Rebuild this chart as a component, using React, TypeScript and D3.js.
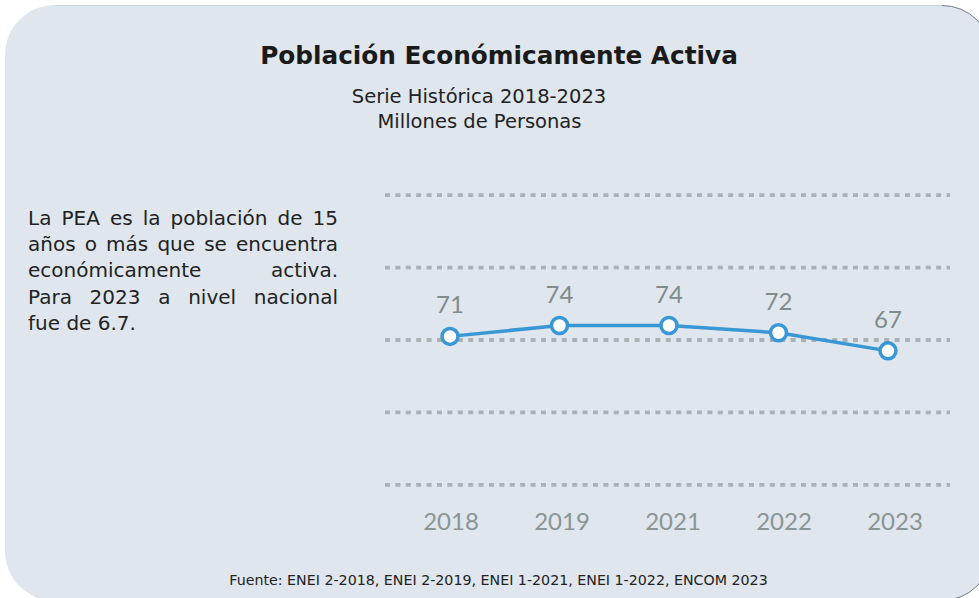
import React from "react";
import * as d3 from "d3";

const years = ["2018", "2019", "2021", "2022", "2023"];
const values = [71, 74, 74, 72, 67];
const gridTicks = [30, 50, 70, 90, 110];
const titleText = "Población Económicamente Activa";
const subtitleLines = ["Serie Histórica 2018-2023", "Millones de Personas"];
const paragraphLines = [
  "La PEA es la población de 15",
  "años o más que se encuentra",
  "económicamente activa.",
  "Para 2023 a nivel nacional",
  "fue de 6.7.",
];
const sourceText = "Fuente: ENEI 2-2018, ENEI 2-2019, ENEI 1-2021, ENEI 1-2022, ENCOM 2023";

const W = 979;
const H = 598;
const SANS = '"DejaVu Sans", "Open Sans", sans-serif';
const LATO = 'Lato, "Open Sans", sans-serif';

let ctx: CanvasRenderingContext2D | null = null;
function measure(text: string, size: number, weight = 400, family = SANS) {
  if (!ctx && typeof document !== "undefined") {
    ctx = document.createElement("canvas").getContext("2d");
  }
  if (!ctx) return text.length * size * 0.6;
  ctx.font = `${weight} ${size}px ${family}`;
  return ctx.measureText(text).width;
}
function fitSize(text: string, target: number, weight = 400, family = SANS) {
  const base = 20;
  return (base * target) / measure(text, base, weight, family);
}

export default function App() {
  const x = d3.scalePoint<string>().domain(years).range([450, 888]);
  const xLab = d3.scalePoint<string>().domain(years).range([451, 895]);
  const y = d3.scaleLinear().domain([30, 110]).range([484.9, 195.1]);

  const data = years.map((yr, i) => ({ yr, v: values[i] }));
  const line = d3
    .line<{ yr: string; v: number }>()
    .x((d) => x(d.yr) as number)
    .y((d) => y(d.v));

  const titleSize = Math.min(25, fitSize(titleText, 478, 700));
  const subSize = Math.min(19.5, fitSize(subtitleLines[0], 264, 400));
  const subSize2 = Math.min(19.5, fitSize(subtitleLines[1], 221, 400));
  const srcSize = Math.min(14.5, fitSize(sourceText, 539, 400));
  const paraSize = Math.min(20, fitSize(paragraphLines[1], 310, 400));

  const paraLeft = 28;
  const paraWidth = 310;
  const paraBase = 225;
  const paraStep = 26.2;

  return (
    <svg
      width={W}
      height={H}
      style={{ position: "absolute", left: 0, top: 0, background: "#ffffff" }}
    >
      <rect x={5} y={5} width={987} height={596} rx={50} ry={50} fill="#dfe6ed" />
      <path d="M55,5.5 L942,5.5" stroke="#cfd4d9" strokeWidth={1} fill="none" />
      <path d="M942,5.5 A49.5,49.5 0 0 1 991.5,55" stroke="#7d8287" strokeWidth={1} fill="none" />
      <path d="M991.5,551 A49.5,49.5 0 0 1 942,600.5" stroke="#7d8287" strokeWidth={1} fill="none" />

      <text
        x={499}
        y={64}
        textAnchor="middle"
        fontFamily={SANS}
        fontWeight={700}
        fontSize={titleSize}
        fill="#1a1a1a"
      >
        {titleText}
      </text>
      <text
        x={479}
        y={103}
        textAnchor="middle"
        fontFamily={SANS}
        fontSize={subSize}
        fill="#222"
      >
        {subtitleLines[0]}
      </text>
      <text
        x={479.5}
        y={128}
        textAnchor="middle"
        fontFamily={SANS}
        fontSize={subSize2}
        fill="#222"
      >
        {subtitleLines[1]}
      </text>

      {paragraphLines.map((ln, li) => {
        const words = ln.split(" ");
        const widths = words.map((w) => measure(w, paraSize));
        const isLast = li === paragraphLines.length - 1;
        const total = widths.reduce((a, b) => a + b, 0);
        const spaceW = measure(" ", paraSize);
        const gap = isLast || words.length < 2 ? spaceW : (paraWidth - total) / (words.length - 1);
        let cx = paraLeft;
        return (
          <text key={li} y={paraBase + li * paraStep} fontFamily={SANS} fontSize={paraSize} fill="#222">
            {words.map((w, wi) => {
              const px = cx;
              cx += widths[wi] + gap;
              return (
                <tspan key={wi} x={px}>
                  {w}
                </tspan>
              );
            })}
          </text>
        );
      })}

      <g>
        {gridTicks.map((t) => (
          <line
            key={t}
            x1={385}
            x2={950}
            y1={y(t)}
            y2={y(t)}
            stroke="#aab2b5"
            strokeWidth={3.8}
            strokeDasharray="5 5.4"
          />
        ))}
      </g>

      <path d={line(data) || ""} fill="none" stroke="#3a97d5" strokeWidth={3.5} />
      {data.map((d) => (
        <circle
          key={d.yr}
          cx={x(d.yr)}
          cy={y(d.v)}
          r={8}
          fill="#ffffff"
          stroke="#3a97d5"
          strokeWidth={3.5}
        />
      ))}
      {data.map((d) => (
        <text
          key={"l" + d.yr}
          x={x(d.yr)}
          y={y(d.v) - 23}
          textAnchor="middle"
          fontFamily={LATO}
          fontSize={24}
          fill="#808b8b"
        >
          {d.v}
        </text>
      ))}
      {years.map((yr) => (
        <text
          key={"x" + yr}
          x={xLab(yr)}
          y={530}
          textAnchor="middle"
          fontFamily={LATO}
          fontSize={24}
          fill="#8a9595"
        >
          {yr}
        </text>
      ))}

      <text
        x={498.5}
        y={585}
        textAnchor="middle"
        fontFamily={SANS}
        fontSize={srcSize}
        fill="#222"
      >
        {sourceText}
      </text>
    </svg>
  );
}
